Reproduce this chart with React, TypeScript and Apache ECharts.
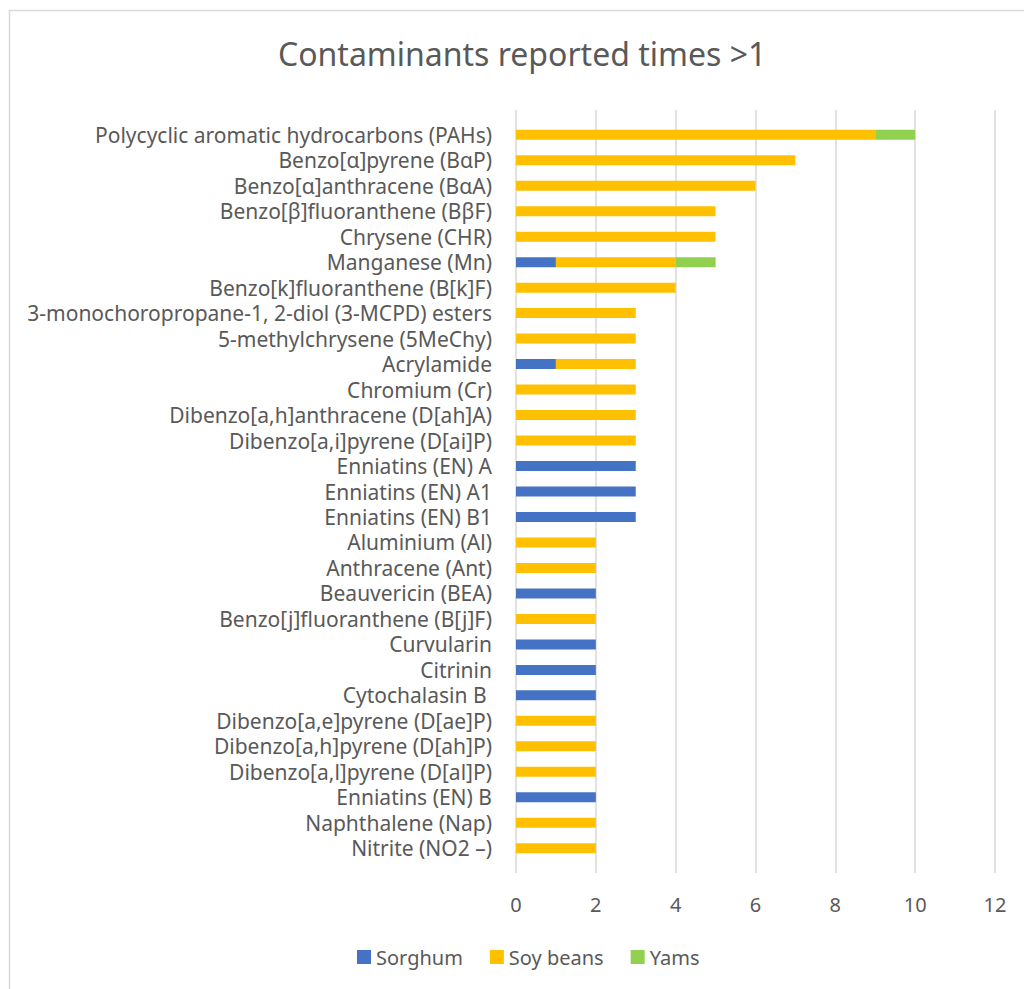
import React, { useEffect, useRef } from "react";
import * as echarts from "echarts";

const categories = [
  "Polycyclic aromatic hydrocarbons (PAHs)",
  "Benzo[α]pyrene (BαP)",
  "Benzo[α]anthracene (BαA)",
  "Benzo[β]fluoranthene (BβF)",
  "Chrysene (CHR)",
  "Manganese (Mn)",
  "Benzo[k]fluoranthene (B[k]F)",
  "3-monochoropropane-1, 2-diol (3-MCPD) esters",
  "5-methylchrysene (5MeChy)",
  "Acrylamide",
  "Chromium (Cr)",
  "Dibenzo[a,h]anthracene (D[ah]A)",
  "Dibenzo[a,i]pyrene (D[ai]P)",
  "Enniatins (EN) A",
  "Enniatins (EN) A1",
  "Enniatins (EN) B1",
  "Aluminium (Al)",
  "Anthracene (Ant)",
  "Beauvericin (BEA)",
  "Benzo[j]fluoranthene (B[j]F)",
  "Curvularin",
  "Citrinin",
  "Cytochalasin B ",
  "Dibenzo[a,e]pyrene (D[ae]P)",
  "Dibenzo[a,h]pyrene (D[ah]P)",
  "Dibenzo[a,l]pyrene (D[al]P)",
  "Enniatins (EN) B",
  "Naphthalene (Nap)",
  "Nitrite (NO2 –)",
];

const sorghum = [0, 0, 0, 0, 0, 1, 0, 0, 0, 1, 0, 0, 0, 3, 3, 3, 0, 0, 2, 0, 2, 2, 2, 0, 0, 0, 2, 0, 0];
const soyBeans = [9, 7, 6, 5, 5, 3, 4, 3, 3, 2, 3, 3, 3, 0, 0, 0, 2, 2, 0, 2, 0, 0, 0, 2, 2, 2, 0, 2, 2];
const yams = [1, 0, 0, 0, 0, 1, 0, 0, 0, 0, 0, 0, 0, 0, 0, 0, 0, 0, 0, 0, 0, 0, 0, 0, 0, 0, 0, 0, 0];

const xTicks = [0, 2, 4, 6, 8, 10, 12];

const FONT = "'Noto Sans', sans-serif";
const TEXT = "#595959";

export default function App() {
  const ref = useRef<HTMLDivElement>(null);
  useEffect(() => {
    if (!ref.current) return;
    const chart = echarts.init(ref.current, null, { renderer: "svg" });
    const mk = (name: string, data: number[], color: string) => ({
      name,
      type: "bar",
      stack: "total",
      xAxisIndex: 0,
      yAxisIndex: 0,
      barWidth: 10,
      itemStyle: { color },
      data: data.map((v) => (v === 0 ? null : v)),
    });
    chart.setOption({
      animation: false,
      backgroundColor: "#fff",
      textStyle: { fontFamily: FONT },
      title: {
        text: "Contaminants reported times >1",
        left: 273,
        top: 32,
        textStyle: { fontFamily: FONT, fontSize: 32, fontWeight: "normal", color: TEXT },
      },
      legend: {
        left: 352,
        top: 942,
        itemWidth: 14,
        itemHeight: 14,
        itemGap: 27,
        icon: "rect",
        textStyle: { fontFamily: FONT, fontSize: 20, color: TEXT },
        data: ["Sorghum", "Soy beans", "Yams"],
      },
      graphic: [
        {
          type: "rect",
          shape: { x: 9.5, y: 10.5, width: 2000, height: 2000 },
          style: { fill: "none", stroke: "#d9d9d9", lineWidth: 1.5 },
          silent: true,
          z: -10,
        },
      ],
      grid: [
        { left: 516, right: 29, top: 122, bottom: 128 },
        { left: 516, right: 29, top: 110, bottom: 116 },
      ],
      xAxis: [
        {
          type: "value",
          gridIndex: 0,
          min: 0,
          max: 12,
          interval: 2,
          axisLine: { show: false },
          axisTick: { show: false },
          axisLabel: { show: false },
          splitLine: { show: false },
        },
        {
          type: "value",
          gridIndex: 1,
          min: 0,
          max: 12,
          interval: 2,
          axisLine: { show: false },
          axisTick: { show: false },
          axisLabel: {
            show: true,
            margin: 21,
            fontFamily: FONT,
            fontSize: 20,
            color: TEXT,
            formatter: (v: number) => (xTicks.includes(v) ? String(v) : ""),
          },
          splitLine: { show: true, lineStyle: { color: "#d9d9d9", width: 1.5 } },
        },
      ],
      yAxis: [
        {
          type: "category",
          gridIndex: 0,
          inverse: true,
          data: categories,
          axisLine: { show: false },
          axisTick: { show: false },
          axisLabel: { margin: 24, fontFamily: FONT, fontSize: 21, color: TEXT, interval: 0 },
        },
        {
          type: "category",
          gridIndex: 1,
          data: [""],
          show: false,
        },
      ],
      series: [
        mk("Sorghum", sorghum, "#4472C4"),
        mk("Soy beans", soyBeans, "#FFC000"),
        mk("Yams", yams, "#92D050"),
      ],
    });
    return () => chart.dispose();
  }, []);
  return (
    <div
      ref={ref}
      style={{ position: "absolute", left: 0, top: 0, width: 1024, height: 989 }}
    />
  );
}
